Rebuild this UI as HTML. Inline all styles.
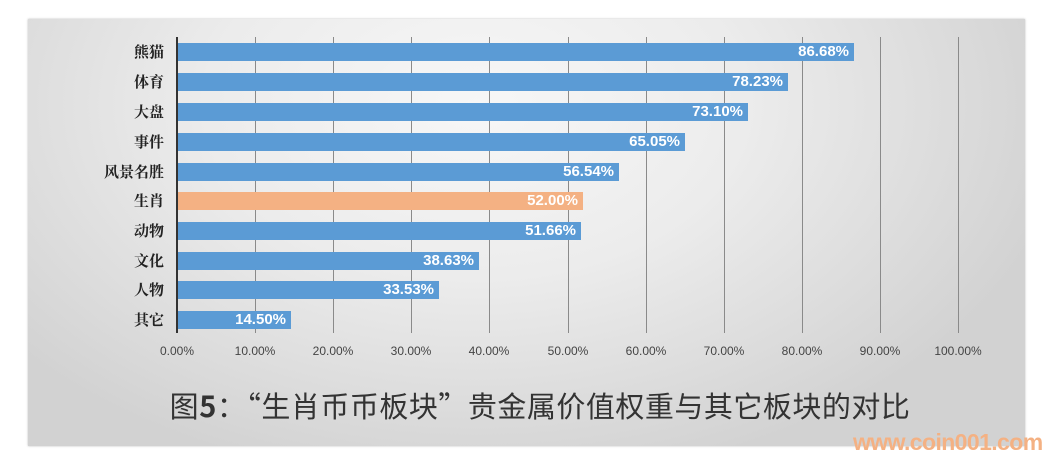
<!DOCTYPE html>
<html><head><meta charset="utf-8"><style>
body{margin:0;width:1054px;height:471px;background:#fff;position:relative;overflow:hidden;font-family:"Liberation Sans","Noto Sans CJK SC",sans-serif}
#box{position:absolute;left:28px;top:19px;width:997px;height:427px;background:radial-gradient(ellipse 60% 90% at 45% 20%,#f7f7f7 0%,#ececec 45%,#d2d2d2 100%);box-shadow:0 0 2px #bbb}
.g{position:absolute;top:37px;height:296px;width:1px;background:#8a8a8a}
.bar{position:absolute;height:18px;background:#5b9bd5;color:#fff;font-weight:bold;font-size:15px;line-height:18px;text-align:right;box-sizing:border-box;padding-right:5px}
.lab{position:absolute;left:60px;width:104px;text-align:right;font-family:"Noto Serif CJK SC",serif;font-size:15px;color:#222;line-height:18px;font-weight:bold}
.t{position:absolute;top:344px;font-size:12px;color:#444;width:80px;text-align:center}
</style></head><body>
<div id="box"></div>
<div style="position:absolute;left:176px;top:37px;width:2px;height:296px;background:#333"></div>
<div class="g" style="left:255px"></div><div class="g" style="left:333px"></div><div class="g" style="left:411px"></div><div class="g" style="left:489px"></div><div class="g" style="left:568px"></div><div class="g" style="left:646px"></div><div class="g" style="left:724px"></div><div class="g" style="left:802px"></div><div class="g" style="left:880px"></div><div class="g" style="left:958px"></div>

<div class="lab" style="top:43px">熊猫</div><div class="bar" style="left:178px;top:43px;width:676px">86.68%</div>
<div class="lab" style="top:73px">体育</div><div class="bar" style="left:178px;top:73px;width:610px">78.23%</div>
<div class="lab" style="top:103px">大盘</div><div class="bar" style="left:178px;top:103px;width:570px">73.10%</div>
<div class="lab" style="top:133px">事件</div><div class="bar" style="left:178px;top:133px;width:507px">65.05%</div>
<div class="lab" style="top:163px">风景名胜</div><div class="bar" style="left:178px;top:163px;width:441px">56.54%</div>
<div class="lab" style="top:192px">生肖</div><div class="bar" style="left:178px;top:192px;width:405px;background:#f4b183">52.00%</div>
<div class="lab" style="top:222px">动物</div><div class="bar" style="left:178px;top:222px;width:403px">51.66%</div>
<div class="lab" style="top:252px">文化</div><div class="bar" style="left:178px;top:252px;width:301px">38.63%</div>
<div class="lab" style="top:281px">人物</div><div class="bar" style="left:178px;top:281px;width:261px">33.53%</div>
<div class="lab" style="top:311px">其它</div><div class="bar" style="left:178px;top:311px;width:113px">14.50%</div>

<div class="t" style="left:137px">0.00%</div><div class="t" style="left:215px">10.00%</div><div class="t" style="left:293px">20.00%</div><div class="t" style="left:371px">30.00%</div><div class="t" style="left:449px">40.00%</div><div class="t" style="left:528px">50.00%</div><div class="t" style="left:606px">60.00%</div><div class="t" style="left:684px">70.00%</div><div class="t" style="left:762px">80.00%</div><div class="t" style="left:840px">90.00%</div><div class="t" style="left:918px">100.00%</div>

<div style="position:absolute;left:100px;width:880px;top:385px;text-align:center;font-family:'Noto Sans CJK SC',sans-serif;font-size:29px;color:#333;line-height:40px;letter-spacing:0.5px">图<b>5</b>：“生肖币币板块”贵金属价值权重与其它板块的对比</div>
<div style="position:absolute;left:853px;top:429px;font-size:23px;font-weight:bold;color:#f4b183;letter-spacing:-0.6px">www.coin001.com</div>
</body></html>
